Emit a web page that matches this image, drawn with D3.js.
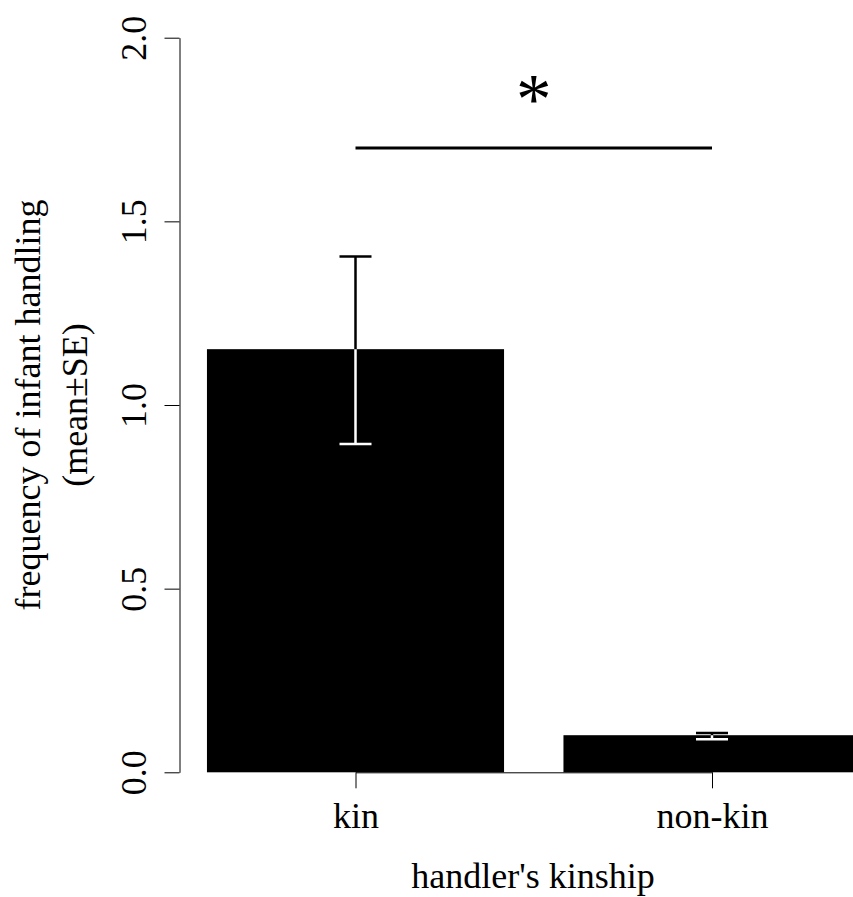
<!DOCTYPE html>
<html>
<head>
<meta charset="utf-8">
<script src="https://cdn.jsdelivr.net/npm/d3@7"></script>
<style>
  body { margin: 0; background: #fff; }
  text { font-family: "Liberation Serif", "DejaVu Serif", serif; fill: #000; }
</style>
</head>
<body>
<svg id="chart" width="853" height="897"></svg>
<script>
// data
var categories = ["kin", "non-kin"];
var means = [1.152, 0.101];
var upper = [1.404, 0.107];
var lower = [0.894, 0.090];
var barPos = [0.7, 1.9];          // bar centres (barplot units)
var yTicks = [0, 0.5, 1, 1.5, 2];
var sigLevel = 1.7;
var starLevel = 1.768;

var svg = d3.select("#chart");

var W = 853, H = 897;
var FONT = 36;

var yScale = d3.scaleLinear()
                .domain([0, 2])
                .range([772.3, 37.7]);
var xScale = d3.scaleLinear()
                .domain([0.7, 1.9])
                .range([355.5, 712]);
var barW = xScale(1) - xScale(0);

// bars
var bars = svg.append("g");
bars.selectAll("rect").data(means).enter().append("rect")
  .attr("x", function(d,i){ return xScale(barPos[i] - 0.5); })
  .attr("y", function(d){ return yScale(d); })
  .attr("width", barW)
  .attr("height", function(d){ return yScale(0) - yScale(d); })
  .attr("fill", "#000");

// clip paths so the error bar is white inside the bar and black outside
var defs = svg.append("defs");
means.forEach(function(d,i){
  defs.append("clipPath").attr("id", "clip" + i)
    .append("rect")
    .attr("x", xScale(barPos[i] - 0.5))
    .attr("y", yScale(d))
    .attr("width", barW)
    .attr("height", yScale(0) - yScale(d));
});

var CAP = 16;
function drawError(g, i, col){
  var cx = xScale(barPos[i]);
  g.append("line").attr("x1", cx).attr("x2", cx)
    .attr("y1", yScale(lower[i])).attr("y2", yScale(upper[i]));
  g.append("line").attr("x1", cx - CAP).attr("x2", cx + CAP)
    .attr("y1", yScale(lower[i])).attr("y2", yScale(lower[i]));
  g.append("line").attr("x1", cx - CAP).attr("x2", cx + CAP)
    .attr("y1", yScale(upper[i])).attr("y2", yScale(upper[i]));
  g.attr("stroke", col).attr("stroke-width", 2.5);
}
means.forEach(function(d,i){
  drawError(svg.append("g"), i, "#000");
  drawError(svg.append("g").attr("clip-path", "url(#clip" + i + ")"), i, "#fff");
});

// y axis
var yAxis = d3.axisLeft(yScale)
              .tickValues(yTicks)
              .tickFormat(d3.format(".1f"))
              .tickSize(15)
              .tickSizeOuter(0);
var gy = svg.append("g").attr("transform", "translate(179.5,0)").call(yAxis);
gy.select(".domain").attr("stroke", "#000");
gy.selectAll(".tick line").attr("stroke", "#000");
gy.selectAll(".tick text")
  .attr("x", null).attr("dy", null)
  .attr("transform", "translate(-34,0) rotate(-90)")
  .attr("text-anchor", "middle")
  .style("font-size", FONT + "px")
  .style("font-family", "Liberation Serif");

// x axis
var xAxis = d3.axisBottom(xScale)
              .tickValues(barPos)
              .tickFormat(function(d,i){ return categories[i]; })
              .tickSize(16)
              .tickSizeOuter(0);
var gx = svg.append("g").attr("transform", "translate(0," + yScale(0) + ")").call(xAxis);
gx.select(".domain").attr("stroke", "#000");
gx.selectAll(".tick line").attr("stroke", "#000");
gx.selectAll(".tick text")
  .attr("y", 56).attr("dy", null)
  .style("font-size", FONT + "px")
  .style("font-family", "Liberation Serif");

// axis titles
svg.append("text")
  .attr("x", 533).attr("y", 888)
  .attr("text-anchor", "middle")
  .style("font-size", FONT + "px")
  .text("handler's kinship");

svg.append("text")
  .attr("transform", "translate(40,405) rotate(-90)")
  .attr("text-anchor", "middle")
  .style("font-size", FONT + "px")
  .text("frequency of infant handling");
svg.append("text")
  .attr("transform", "translate(87,405) rotate(-90)")
  .attr("text-anchor", "middle")
  .style("font-size", FONT + "px")
  .text("(mean\u00b1SE)");

// significance
svg.append("line")
  .attr("x1", xScale(barPos[0])).attr("x2", xScale(barPos[1]))
  .attr("y1", yScale(sigLevel)).attr("y2", yScale(sigLevel))
  .attr("stroke", "#000").attr("stroke-width", 3);
svg.append("text")
  .attr("x", (xScale(barPos[0]) + xScale(barPos[1])) / 2)
  .attr("y", yScale(starLevel))
  .attr("text-anchor", "middle")
  .style("font-size", "71px")
  .text("*");
</script>
</body>
</html>
